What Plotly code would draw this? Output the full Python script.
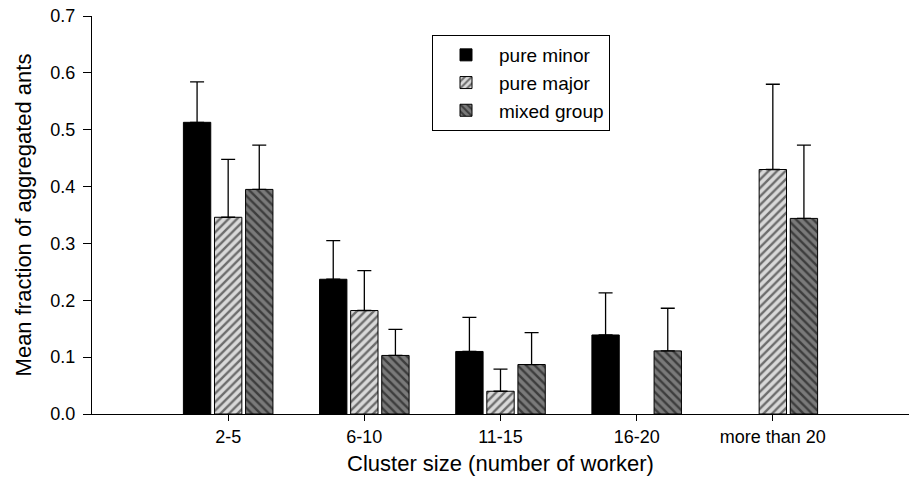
import plotly.graph_objects as go

categories = ["2-5", "6-10", "11-15", "16-20", "more than 20"]
pure_minor = [0.513, 0.237, 0.110, 0.139, None]
pure_minor_err = [0.071, 0.068, 0.060, 0.074, None]
pure_major = [0.346, 0.182, 0.040, None, 0.430]
pure_major_err = [0.102, 0.070, 0.039, None, 0.150]
mixed_group = [0.395, 0.103, 0.087, 0.111, 0.344]
mixed_group_err = [0.078, 0.046, 0.056, 0.075, 0.129]

xpos = list(range(len(categories)))

def err(e):
    return dict(type="data", symmetric=False, array=[v if v is not None else 0 for v in e],
                arrayminus=[0] * len(e), color="black", thickness=1.3, width=7)

fig = go.Figure()
fig.add_trace(go.Bar(name="pure minor", x=xpos, y=pure_minor, error_y=err(pure_minor_err),
                     marker=dict(color="black", line=dict(color="black", width=1))))
fig.add_trace(go.Bar(name="pure major", x=xpos, y=pure_major, error_y=err(pure_major_err),
                     marker=dict(color="#d9d9d9", line=dict(color="black", width=1),
                                 pattern=dict(shape="/", fgcolor="black", bgcolor="#d9d9d9",
                                              size=6, solidity=0.4, fillmode="overlay"))))
fig.add_trace(go.Bar(name="mixed group", x=xpos, y=mixed_group, error_y=err(mixed_group_err),
                     marker=dict(color="#7a7a7a", line=dict(color="black", width=1),
                                 pattern=dict(shape="\\", fgcolor="black", bgcolor="#7a7a7a",
                                              size=6, solidity=0.4, fillmode="overlay"))))

fig.update_layout(
    width=912, height=480,
    margin=dict(l=92, r=3, t=16, b=66),
    paper_bgcolor="white", plot_bgcolor="white",
    barmode="group", bargap=0.315, bargroupgap=0.12,
    font=dict(family="Liberation Sans, Arial, sans-serif", color="black", size=18),
    legend=dict(x=(432 - 92) / 817, y=(414 - 35) / 398, xanchor="left", yanchor="top",
                bordercolor="black", borderwidth=1, bgcolor="white",
                font=dict(size=19), itemwidth=56),
    xaxis=dict(range=[-1, 5], tickmode="array", tickvals=xpos, ticktext=categories,
               showline=True, linecolor="black", linewidth=1, ticks="outside",
               ticklen=6, tickcolor="black", showgrid=False, zeroline=False,
               tickfont=dict(size=18),
               title=dict(text="Cluster size (number of worker)", font=dict(size=22), standoff=10)),
    yaxis=dict(range=[0, 0.7], tickvals=[0, 0.1, 0.2, 0.3, 0.4, 0.5, 0.6, 0.7], tickformat=".1f",
               showline=True, linecolor="black", linewidth=1, ticks="outside",
               ticklen=8, tickcolor="black", showgrid=False, zeroline=False,
               tickfont=dict(size=18), ticklabelstandoff=4,
               title=dict(text="Mean fraction of aggregated ants", font=dict(size=22), standoff=12)),
)

fig.write_html("out.html")
